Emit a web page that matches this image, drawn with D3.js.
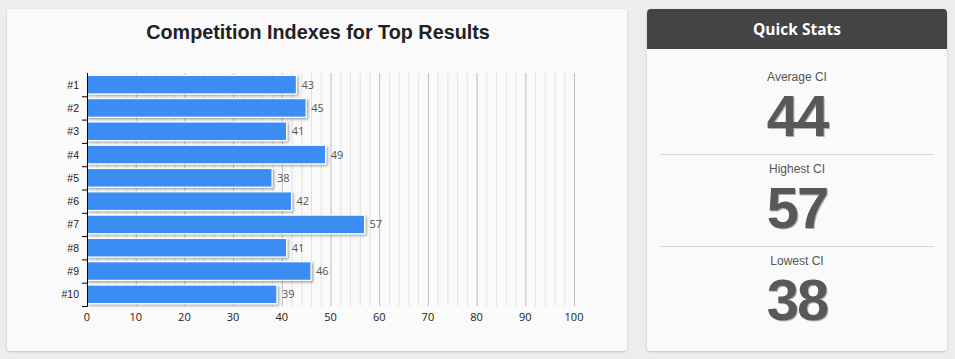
<!DOCTYPE html>
<html>
<head>
<meta charset="utf-8">
<script src="https://cdn.jsdelivr.net/npm/d3@7/dist/d3.min.js"></script>
<style>
  html, body { margin: 0; padding: 0; background: #ececec; }
  svg { display: block; }
</style>
</head>
<body>
<svg id="chart" width="955" height="359"></svg>
<script>
const categories = ["#1", "#2", "#3", "#4", "#5", "#6", "#7", "#8", "#9", "#10"];
const values = [43, 45, 41, 49, 38, 42, 57, 41, 46, 39];
const xTicks = [0, 10, 20, 30, 40, 50, 60, 70, 80, 90, 100];
const chartTitle = "Competition Indexes for Top Results";
const statsTitle = "Quick Stats";
const statLabels = ["Average CI", "Highest CI", "Lowest CI"];

const svg = d3.select("#chart");
const defs = svg.append("defs");
const panelShadow = defs.append("filter").attr("id", "pshadow").attr("x", "-5%").attr("y", "-5%").attr("width", "110%").attr("height", "110%");
panelShadow.append("feDropShadow").attr("dx", 0).attr("dy", 1).attr("stdDeviation", 1.2).attr("flood-color", "#000").attr("flood-opacity", 0.18);
const barShadow = defs.append("filter").attr("id", "bshadow").attr("x", "-5%").attr("y", "-20%").attr("width", "110%").attr("height", "150%");
barShadow.append("feDropShadow").attr("dx", 1.5).attr("dy", 1.5).attr("stdDeviation", 0.8).attr("flood-color", "#000").attr("flood-opacity", 0.35);
const numShadow = defs.append("filter").attr("id", "nshadow");
numShadow.append("feDropShadow").attr("dx", 1).attr("dy", 1).attr("stdDeviation", 0.6).attr("flood-color", "#000").attr("flood-opacity", 0.3);

svg.append("rect").attr("width", 955).attr("height", 359).attr("fill", "#ededed");

// Left panel
svg.append("rect").attr("x", 7).attr("y", 9).attr("width", 620).attr("height", 342)
  .attr("rx", 4).attr("fill", "#fafafa").attr("filter", "url(#pshadow)");

svg.append("text").attr("x", 318).attr("y", 39).attr("text-anchor", "middle")
  .attr("font-family", "Liberation Sans, Arial, sans-serif").attr("font-weight", "bold")
  .attr("font-size", 19.8).attr("fill", "#222").text(chartTitle);

const x = d3.scaleLinear().domain([0, 100]).range([87, 574]);
const y = d3.scaleBand().domain(categories).range([73, 306]).paddingInner(0.2).paddingOuter(0.1);

const g = svg.append("g");
g.selectAll("line.minor").data(d3.range(2, 100, 2).filter(v => v % 10 !== 0)).join("line")
  .attr("class", "minor").attr("x1", d => x(d) + 0.5).attr("x2", d => x(d) + 0.5)
  .attr("y1", 73).attr("y2", 306).attr("stroke", "#e2e2e2").attr("stroke-width", 1);
g.selectAll("line.major").data(xTicks.slice(1)).join("line")
  .attr("class", "major").attr("x1", d => x(d) + 0.5).attr("x2", d => x(d) + 0.5)
  .attr("y1", 73).attr("y2", 306).attr("stroke", "#bdbdbd").attr("stroke-width", 1);

g.selectAll("rect.bar").data(values).join("rect")
  .attr("class", "bar")
  .attr("x", x(0))
  .attr("y", (d, i) => y(categories[i]))
  .attr("width", d => x(d) - x(0))
  .attr("height", y.bandwidth())
  .attr("fill", "#3a8cf3").attr("stroke", "#ffffff").attr("stroke-width", 1.2)
  .attr("filter", "url(#bshadow)");

g.selectAll("text.val").data(values).join("text")
  .attr("class", "val")
  .attr("x", d => x(d) + 5)
  .attr("y", (d, i) => y(categories[i]) + y.bandwidth() / 2 + 4)
  .attr("font-family", "Open Sans, sans-serif").attr("font-size", 11)
  .attr("fill", "#555").text(d => d);

const ax = svg.append("g").attr("font-family", "Liberation Sans, Arial, sans-serif");
ax.append("line").attr("x1", 87.5).attr("x2", 87.5).attr("y1", 73).attr("y2", 306.5).attr("stroke", "#000");
ax.selectAll("line.yt").data(d3.range(1, 11)).join("line")
  .attr("class", "yt").attr("x1", 82).attr("x2", 87.5)
  .attr("y1", i => 73 + (306 - 73) * i / 10 + 0.5).attr("y2", i => 73 + (306 - 73) * i / 10 + 0.5)
  .attr("stroke", "#000");
ax.selectAll("text.yl").data(categories).join("text")
  .attr("class", "yl").attr("x", 79).attr("y", d => y(d) + y.bandwidth() / 2 + 4)
  .attr("text-anchor", "end").attr("font-size", 10.5).attr("fill", "#222").text(d => d);

ax.selectAll("text.xl").data(xTicks).join("text")
  .attr("class", "xl").attr("x", d => x(d)).attr("y", 321)
  .attr("text-anchor", "middle").attr("font-family", "Open Sans, sans-serif").attr("font-size", 11)
  .attr("fill", "#222").text(d => d);

// Right panel
svg.append("rect").attr("x", 647).attr("y", 9).attr("width", 300).attr("height", 342)
  .attr("rx", 4).attr("fill", "#fafafa").attr("filter", "url(#pshadow)");
svg.append("path")
  .attr("d", "M647,49 V13 a4,4 0 0 1 4,-4 H943 a4,4 0 0 1 4,4 V49 Z")
  .attr("fill", "#444444");
svg.append("text").attr("x", 797).attr("y", 35).attr("text-anchor", "middle")
  .attr("font-family", "Open Sans, sans-serif").attr("font-weight", "bold")
  .attr("font-size", 15.5).attr("fill", "#fff").text(statsTitle);

const statValues = [Math.round(d3.mean(values)), d3.max(values), d3.min(values)];
const statTop = [81, 173, 265];
statLabels.forEach((lab, i) => {
  svg.append("text").attr("x", 797).attr("y", statTop[i]).attr("text-anchor", "middle")
    .attr("font-family", "Liberation Sans, Arial, sans-serif").attr("font-size", 12)
    .attr("fill", "#555").text(lab);
  svg.append("text").attr("x", 797).attr("y", statTop[i] + 55).attr("text-anchor", "middle")
    .attr("font-family", "Liberation Sans, Arial, sans-serif").attr("font-weight", "bold")
    .attr("font-size", 58).attr("letter-spacing", -2).attr("fill", "#585858")
    .attr("filter", "url(#nshadow)").text(statValues[i]);
  if (i < 2) {
    svg.append("line").attr("x1", 660).attr("x2", 934)
      .attr("y1", statTop[i] + 73.5).attr("y2", statTop[i] + 73.5)
      .attr("stroke", "#d8d8d8");
  }
});
</script>
</body>
</html>
